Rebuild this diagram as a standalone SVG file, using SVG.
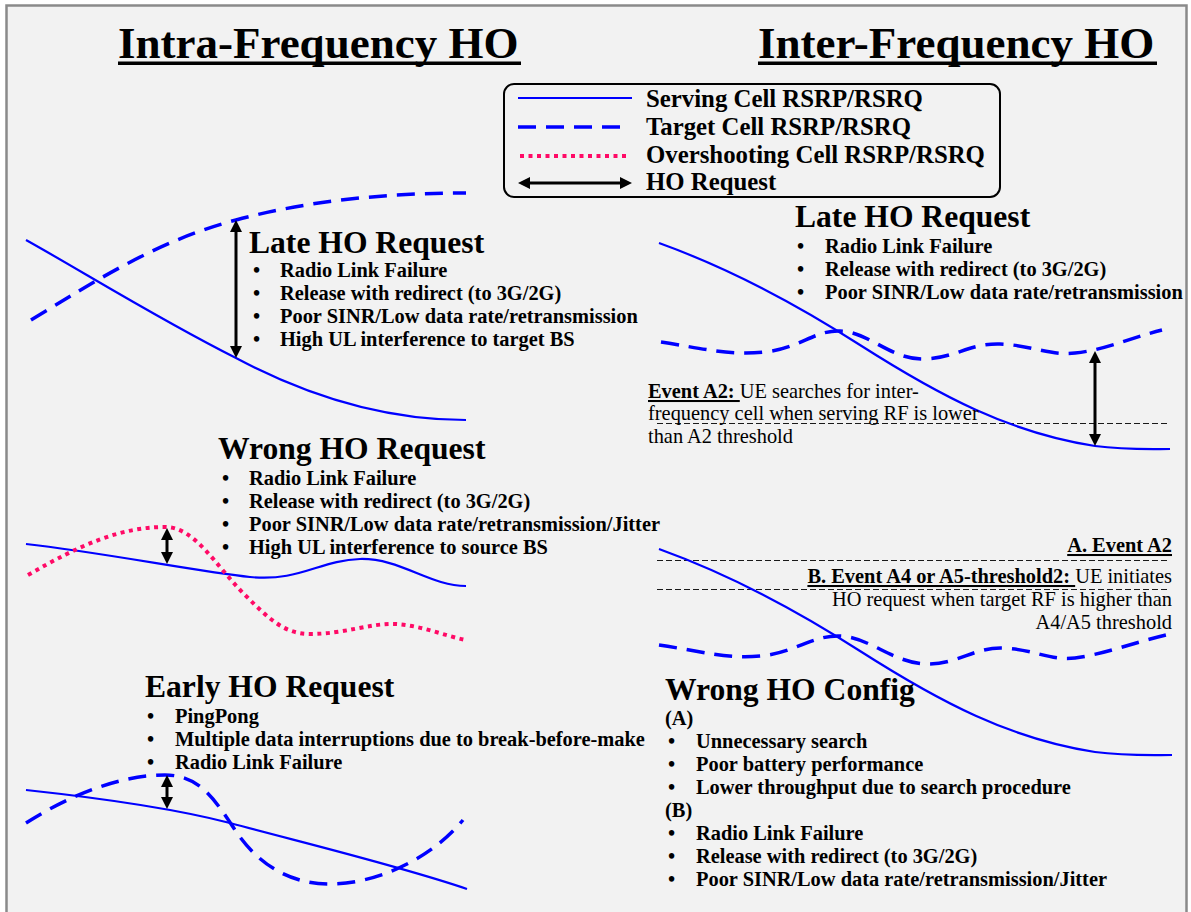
<svg xmlns="http://www.w3.org/2000/svg" width="1191" height="912" viewBox="0 0 1191 912">
  <style>
    text { font-family: "Liberation Serif", "Times New Roman", serif; fill: #000; }
    .title { font-size: 45px; font-weight: bold; }
    .head { font-size: 31.6px; font-weight: bold; }
    .item { font-size: 20.4px; font-weight: bold; }
    .note { font-size: 20.4px; }
    .b { font-weight: bold; }
    .u { text-decoration: underline; }
    .leg { font-size: 24.8px; font-weight: bold; }
    .frame { fill: #f2f2f2; stroke: #8a8a8a; stroke-width: 2.5; }
    .serving { fill: none; stroke: #0000ff; stroke-width: 2.2; }
    .target { fill: none; stroke: #0000ff; stroke-width: 3.5; stroke-dasharray: 18 10; }
    .over { fill: none; stroke: #ff0a66; stroke-width: 4; stroke-dasharray: 4 4.5; }
    .ho { stroke: #000; stroke-width: 3; fill: none; marker-start: url(#head); marker-end: url(#head); }
    .thr { stroke: #1a1a1a; stroke-width: 1; stroke-dasharray: 6 3; fill: none; }
    .rule { fill: #000; }
  </style>
  <defs>
    <marker id="head" viewBox="0 0 12 12" refX="2" refY="6" markerWidth="12" markerHeight="12" markerUnits="userSpaceOnUse" orient="auto-start-reverse">
      <path d="M0,0 L12,6 L0,12 z" fill="#000"/>
    </marker>
  </defs>

  <!-- page -->
  <rect x="0" y="0" width="1191" height="912" fill="#ffffff"/>
  <rect class="frame" x="6.5" y="5.5" width="1180" height="920"/>

  <!-- section titles -->
  <g id="title-intra">
    <text class="title" x="118" y="58">Intra-Frequency HO</text>
    <rect class="rule" x="118" y="61.5" width="403" height="3.5"/>
  </g>
  <g id="title-inter">
    <text class="title" x="758" y="58">Inter-Frequency HO</text>
    <rect class="rule" x="758" y="61.5" width="399" height="3.5"/>
  </g>

  <!-- legend -->
  <g id="legend">
    <rect x="504" y="84" width="496" height="113" rx="10" fill="none" stroke="#000" stroke-width="2"/>
    <line class="serving" x1="518" y1="98" x2="632" y2="98"/>
    <line class="target" x1="518" y1="127" x2="628" y2="127"/>
    <line class="over" x1="520" y1="156" x2="630" y2="156"/>
    <line class="ho" x1="528" y1="183" x2="622" y2="183"/>
    <text class="leg" x="646" y="107">Serving Cell RSRP/RSRQ</text>
    <text class="leg" x="646" y="135">Target Cell RSRP/RSRQ</text>
    <text class="leg" x="646" y="163">Overshooting Cell RSRP/RSRQ</text>
    <text class="leg" x="646" y="190">HO Request</text>
  </g>

  <!-- intra-frequency: late HO request -->
  <g id="intra-late">
    <path class="target" d="M31,320 C100,278 160,240 236,220 C310,200 390,193 466,193"/>
    <path class="serving" d="M26,240 C80,270 160,320 236,358 C300,392 380,420 466,420"/>
    <text class="head" x="249" y="253">Late HO Request</text>
    <text class="item" x="253" y="277">•</text>
    <text class="item" x="280" y="277">Radio Link Failure</text>
    <text class="item" x="253" y="300">•</text>
    <text class="item" x="280" y="300">Release with redirect (to 3G/2G)</text>
    <text class="item" x="253" y="323">•</text>
    <text class="item" x="280" y="323">Poor SINR/Low data rate/retransmission</text>
    <text class="item" x="253" y="346">•</text>
    <text class="item" x="280" y="346">High UL interference to target BS</text>
  </g>

  <!-- intra-frequency: wrong HO request -->
  <g id="intra-wrong">
    <path class="serving" d="M26,544 C100,552 200,572 250,577 C300,582 320,560 360,559 C400,558 430,586 466,586"/>
    <path class="over" d="M28,575 C80,545 120,527 165,527 C195,527 215,565 245,595 C270,620 285,634 310,634 C345,634 370,623 395,624 C420,625 445,636 466,640"/>
    <text class="head" x="218" y="459">Wrong HO Request</text>
    <text class="item" x="222" y="485">•</text>
    <text class="item" x="249" y="485">Radio Link Failure</text>
    <text class="item" x="222" y="508">•</text>
    <text class="item" x="249" y="508">Release with redirect (to 3G/2G)</text>
    <text class="item" x="222" y="531">•</text>
    <text class="item" x="249" y="531">Poor SINR/Low data rate/retransmission/Jitter</text>
    <text class="item" x="222" y="554">•</text>
    <text class="item" x="249" y="554">High UL interference to source BS</text>
  </g>

  <!-- intra-frequency: early HO request -->
  <g id="intra-early">
    <path class="serving" d="M26,790 C100,798 180,810 230,823 C300,842 400,866 467,889"/>
    <path class="target" d="M26,823 C70,795 120,775 165,775 C200,775 215,800 235,830 C255,860 285,884 330,884 C375,884 430,860 463,820"/>
    <text class="head" x="145" y="697">Early HO Request</text>
    <text class="item" x="147" y="723">•</text>
    <text class="item" x="175" y="723">PingPong</text>
    <text class="item" x="147" y="746">•</text>
    <text class="item" x="175" y="746">Multiple data interruptions due to break-before-make</text>
    <text class="item" x="147" y="769">•</text>
    <text class="item" x="175" y="769">Radio Link Failure</text>
  </g>

  <!-- inter-frequency: late HO request -->
  <g id="inter-late">
    <line class="thr" x1="657" y1="423.5" x2="1170" y2="423.5"/>
    <path class="target" d="M661,342 C700,348 730,356 765,352 C800,348 815,330 840,331 C870,332 890,360 925,359 C955,358 970,343 1000,344 C1030,345 1050,356 1075,353 C1105,350 1130,338 1162,330"/>
    <path class="serving" d="M659,243 C720,265 790,300 860,345 C940,396 1010,433 1095,446 C1125,450 1150,449 1170,449"/>
    <text class="head" x="795" y="227">Late HO Request</text>
    <text class="item" x="797" y="253">•</text>
    <text class="item" x="825" y="253">Radio Link Failure</text>
    <text class="item" x="797" y="276">•</text>
    <text class="item" x="825" y="276">Release with redirect (to 3G/2G)</text>
    <text class="item" x="797" y="299">•</text>
    <text class="item" x="825" y="299">Poor SINR/Low data rate/retransmission</text>
    <text class="note" x="648" y="398"><tspan class="b u">Event A2: </tspan>UE searches for inter-</text>
    <text class="note" x="648" y="420">frequency cell when serving RF is lower</text>
    <text class="note" x="648" y="443">than A2 threshold</text>
  </g>

  <!-- inter-frequency: wrong HO configuration -->
  <g id="inter-config">
    <line class="thr" x1="657" y1="560.5" x2="1170" y2="560.5"/>
    <line class="thr" x1="657" y1="589.5" x2="1170" y2="589.5"/>
    <path class="target" d="M659,645 C700,651 725,659 760,656 C795,653 812,635 840,636 C870,637 895,665 930,664 C960,663 975,647 1003,648 C1033,649 1050,661 1075,658 C1105,654 1135,642 1170,634"/>
    <path class="serving" d="M659,549 C720,571 790,606 860,651 C940,702 1010,739 1095,752 C1125,756 1150,755 1172,755"/>
    <text class="note" x="1172" y="552" text-anchor="end"><tspan class="b u">A. Event A2</tspan></text>
    <text class="note" x="1172" y="583" text-anchor="end"><tspan class="b u">B. Event A4 or A5-threshold2: </tspan>UE initiates</text>
    <text class="note" x="1172" y="606" text-anchor="end">HO request when target RF is higher than</text>
    <text class="note" x="1172" y="629" text-anchor="end">A4/A5 threshold</text>
    <text class="head" x="665" y="700">Wrong HO Config</text>
    <text class="item" x="665" y="725">(A)</text>
    <text class="item" x="668" y="748">•</text>
    <text class="item" x="696" y="748">Unnecessary search</text>
    <text class="item" x="668" y="771">•</text>
    <text class="item" x="696" y="771">Poor battery performance</text>
    <text class="item" x="668" y="794">•</text>
    <text class="item" x="696" y="794">Lower throughput due to search procedure</text>
    <text class="item" x="665" y="817">(B)</text>
    <text class="item" x="668" y="840">•</text>
    <text class="item" x="696" y="840">Radio Link Failure</text>
    <text class="item" x="668" y="863">•</text>
    <text class="item" x="696" y="863">Release with redirect (to 3G/2G)</text>
    <text class="item" x="668" y="886">•</text>
    <text class="item" x="696" y="886">Poor SINR/Low data rate/retransmission/Jitter</text>
  </g>

  <!-- HO request arrows -->
  <g id="ho-requests">
    <line class="ho" x1="236" y1="230" x2="236" y2="348"/>
    <line class="ho" x1="167" y1="538" x2="167" y2="554"/>
    <line class="ho" x1="167" y1="785" x2="167" y2="799"/>
    <line class="ho" x1="1095" y1="361" x2="1095" y2="436"/>
  </g>
</svg>
